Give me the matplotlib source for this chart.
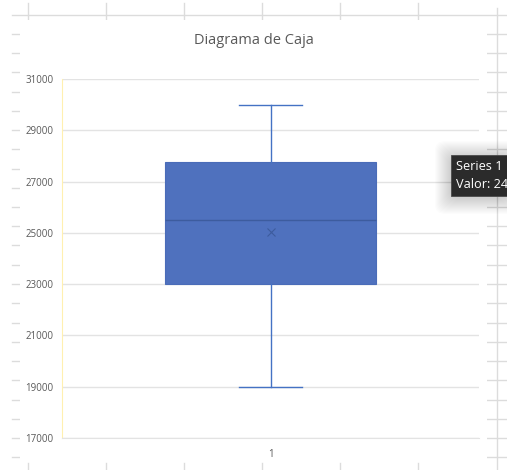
import matplotlib
matplotlib.use("Agg")
import matplotlib.pyplot as plt
from matplotlib.lines import Line2D
from matplotlib.patches import Rectangle, FancyBboxPatch

plt.rcParams['font.family'] = ['Open Sans', 'DejaVu Sans']

# summary statistics of the single series
series_label = ['1']
q1 = [23000]
median = [25500]
q3 = [27750]
whisker_low = [19000]
whisker_high = [30000]
mean = [25050]
y_ticks = [17000, 19000, 21000, 23000, 25000, 27000, 29000, 31000]

W, H = 507, 470
fig = plt.figure(figsize=(W / 100, H / 100), dpi=100)

def px(x, y):
    return x / W, 1 - y / H

sheet_grey = '#dcdcdc'

def sheet_line(xs, ys):
    fig.add_artist(Line2D(xs, ys, color=sheet_grey, lw=1, zorder=-3))

# spreadsheet cells behind the chart
col_x = [28, 106, 184, 262, 340, 418]
for cx in col_x:
    sheet_line([cx / W] * 2, [px(0, 3)[1], px(0, 20)[1]])
    sheet_line([cx / W] * 2, [px(0, 463)[1], 0])
sheet_line([12 / W, 1], [px(0, 14.5)[1]] * 2)
sheet_line([497 / W] * 2, [px(0, 8)[1], 0])
for k in range(1, 24):
    ry = px(0, 14.5 + 19.25 * k)[1]
    sheet_line([12 / W, 20 / W], [ry, ry])
    sheet_line([487 / W, 1], [ry, ry])

# chart area
x0, y0 = px(20, 462)
fig.add_artist(Rectangle((x0, y0), (487 - 20) / W, (462 - 20) / H, zorder=-2,
                         transform=fig.transFigure, facecolor='white', edgecolor='none'))

tx, ty = px(253.5, 40)
fig.text(tx, ty, 'Diagrama de Caja', ha='center', va='center', fontsize=10.5, color='#595959')

ax = fig.add_axes([62 / W, 1 - 438 / H, (479 - 62) / W, (438 - 79) / H])
stats = []
for i in range(len(series_label)):
    stats.append({'label': series_label[i], 'q1': q1[i], 'med': median[i], 'q3': q3[i],
                  'whislo': whisker_low[i], 'whishi': whisker_high[i], 'mean': mean[i],
                  'fliers': []})

blue = '#4472c4'
ax.bxp(stats, positions=[1], widths=0.504, capwidths=0.149, patch_artist=True,
       showmeans=True, showfliers=False,
       boxprops=dict(facecolor='#4f71be', edgecolor='#4a6cb8', linewidth=0.8),
       whiskerprops=dict(color=blue, linewidth=1),
       capprops=dict(color=blue, linewidth=1),
       medianprops=dict(color='#3d5c9e', linewidth=1),
       meanprops=dict(marker='x', markersize=6, markeredgecolor='#3d5c9e',
                      markeredgewidth=0.8))

ax.set_xlim(0.5, 1.5)
ax.set_ylim(17000, 31000)
ax.set_yticks(y_ticks)
ax.set_yticklabels([str(v) for v in y_ticks])
ax.grid(axis='y', color='#e3e3e3', linewidth=1)
ax.set_axisbelow(True)
for side in ['top', 'right']:
    ax.spines[side].set_visible(False)
ax.spines['left'].set_color('#fff0b0')
ax.spines['bottom'].set_color('#e3e3e3')
ax.tick_params(axis='y', length=0, pad=6, labelsize=7, labelcolor='#595959')
ax.tick_params(axis='x', length=0, pad=8, labelsize=7, labelcolor='#595959')
ax.set_facecolor('none')

# hover tooltip at the right edge, with a soft drop shadow
for grow in range(16, 0, -1):
    bx, by = px(451 - grow, 198 + grow)
    fig.add_artist(FancyBboxPatch((bx, by), (W - 451 + 2 * grow) / W, (41 + 2 * grow) / H,
                                  boxstyle='round,pad=0,rounding_size=0.02',
                                  transform=fig.transFigure, facecolor='black',
                                  edgecolor='none', alpha=0.012, zorder=4))
bx, by = px(451, 196)
fig.add_artist(Rectangle((bx, by), (W - 451) / W, 41 / H, transform=fig.transFigure,
                         facecolor='#2b2b2b', edgecolor='#4a4a4a', linewidth=0.6, zorder=5))
lx, ly = px(456, 166)
fig.text(lx, ly, 'Series 1', color='white', fontsize=9.2, va='center', ha='left', zorder=6)
lx, ly = px(456, 184)
fig.text(lx, ly, 'Valor: 24', color='white', fontsize=9.2, va='center', ha='left', zorder=6)

fig.savefig('out.png', dpi=100)
